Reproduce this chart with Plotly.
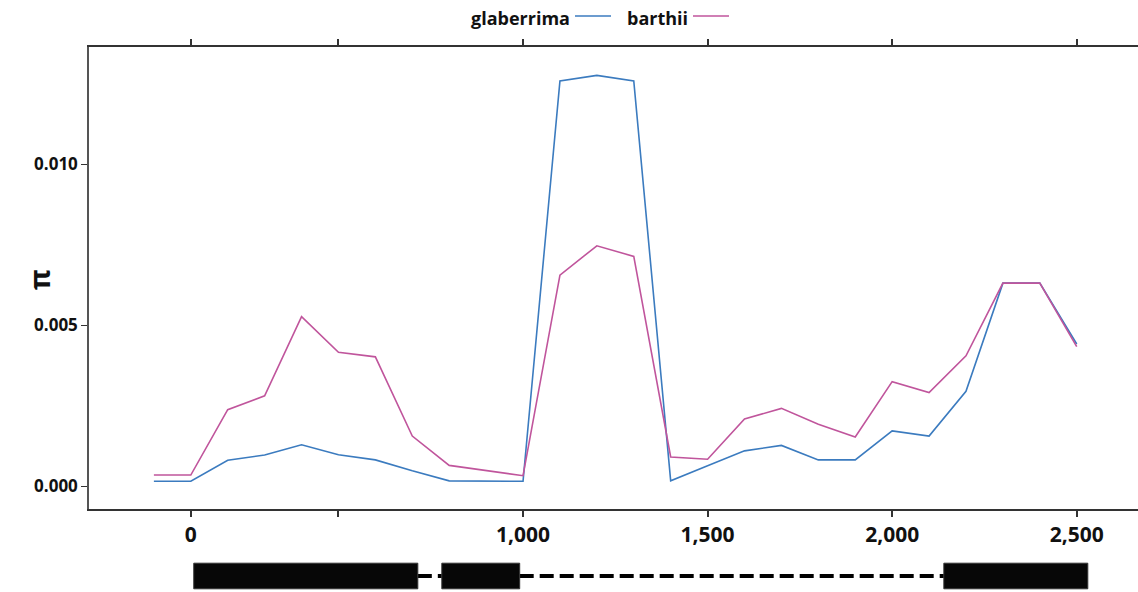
import plotly.graph_objects as go

positions = list(range(0, 2600, 100))
glaberrima = [0.000155, 0.000155, 0.00081, 0.00097, 0.00129, 0.00098, 0.00082, 0.00048,
              0.00017, 0.00016, 0.000155, 0.01259, 0.01276, 0.01259, 0.00017, 0.00064,
              0.0011, 0.00127, 0.00082, 0.00082, 0.00172, 0.00156, 0.00295, 0.00631,
              0.00631, 0.00442]
barthii = [0.00035, 0.00035, 0.00238, 0.00281, 0.00527, 0.00416, 0.00402, 0.00156,
           0.00065, 0.0005, 0.00033, 0.00656, 0.00747, 0.00714, 0.00091, 0.00084,
           0.00209, 0.00242, 0.00193, 0.00153, 0.00325, 0.00291, 0.00405, 0.00631,
           0.00631, 0.00434]

tick_vals = [100, 500, 1000, 1500, 2000, 2500]
tick_text = ["0", "", "1,000", "1,500", "2,000", "2,500"]
y_tick_vals = [0.0, 0.005, 0.010]
y_tick_text = ["0.000", "0.005", "0.010"]

# gene model: exons (start, end) and introns
exon_starts = [108, 780, 2140]
exon_ends = [715, 991, 2530]
intron_starts = [715, 991]
intron_ends = [780, 2140]

BLUE = "#3b7bbf"
PINK = "#c0559c"
FONT = "Open Sans"

fig = go.Figure()
fig.add_trace(go.Scatter(x=positions, y=glaberrima, mode="lines", name="glaberrima",
                         line=dict(color=BLUE, width=1.6), showlegend=False))
fig.add_trace(go.Scatter(x=positions, y=barthii, mode="lines", name="barthii",
                         line=dict(color=PINK, width=1.6), showlegend=False))

for s, e in zip(intron_starts, intron_ends):
    fig.add_trace(go.Scatter(x=[s, e], y=[0.5, 0.5], mode="lines", yaxis="y2",
                             line=dict(color="black", width=4, dash="14px,6px"),
                             showlegend=False, hoverinfo="skip"))
for s, e in zip(exon_starts, exon_ends):
    fig.add_trace(go.Scatter(x=[s, e, e, s, s], y=[0.1, 0.1, 0.9, 0.9, 0.1], mode="lines",
                             yaxis="y2", fill="toself", fillcolor="#070707",
                             line=dict(color="#333", width=1),
                             showlegend=False, hoverinfo="skip"))

W, H = 1138, 592
ml, mt = 89, 47
pw, ph = W - ml, H - mt


def px(x):
    return (x - ml) / pw


def py(y):
    return (H - y) / ph


fig.update_layout(
    width=W, height=H,
    margin=dict(l=ml, r=0, t=mt, b=0),
    plot_bgcolor="white", paper_bgcolor="white",
    font=dict(family=FONT, color="#111"),
    xaxis=dict(range=[-175.8, 2666], tickvals=tick_vals, ticktext=tick_text,
               showgrid=False, zeroline=False, showline=True, linecolor="#333",
               linewidth=1.5, mirror="ticks", ticks="outside", ticklen=6,
               tickcolor="#333", tickwidth=1.5, anchor="y",
               tickfont=dict(family=FONT, size=21, weight="bold", color="#111")),
    yaxis=dict(domain=[(H - 509) / ph, 1], range=[-0.000705, 0.013643],
               tickvals=y_tick_vals, ticktext=y_tick_text,
               showgrid=False, zeroline=False, showline=True, linecolor="#555",
               linewidth=1.5, ticks="outside", ticklen=6, tickcolor="#333",
               tickwidth=1.2,
               tickfont=dict(family=FONT, size=17, weight="bold", color="#111")),
    yaxis2=dict(domain=[0, 32 / ph], range=[0, 1], visible=False, anchor="x"),
    showlegend=False,
)

fig.add_annotation(x=px(18), y=py(280), xref="paper", yref="paper", text="π",
                   textangle=-90, showarrow=False,
                   font=dict(family=FONT, size=28, weight="bold", color="#111"))

# custom legend (text followed by line sample)
legend_items = [("glaberrima", BLUE, 572, 575, 611), ("barthii", PINK, 690, 693, 729)]
for name, col, tx, l0, l1 in legend_items:
    fig.add_annotation(x=px(tx), y=py(18), xref="paper", yref="paper", text=name,
                       xanchor="right", yanchor="middle", showarrow=False,
                       font=dict(family=FONT, size=18, weight="bold", color="#111"))
    fig.add_shape(type="line", xref="paper", yref="paper", x0=px(l0), x1=px(l1),
                  y0=py(16), y1=py(16), line=dict(color=col, width=1.6))

fig.write_html("out.html")
